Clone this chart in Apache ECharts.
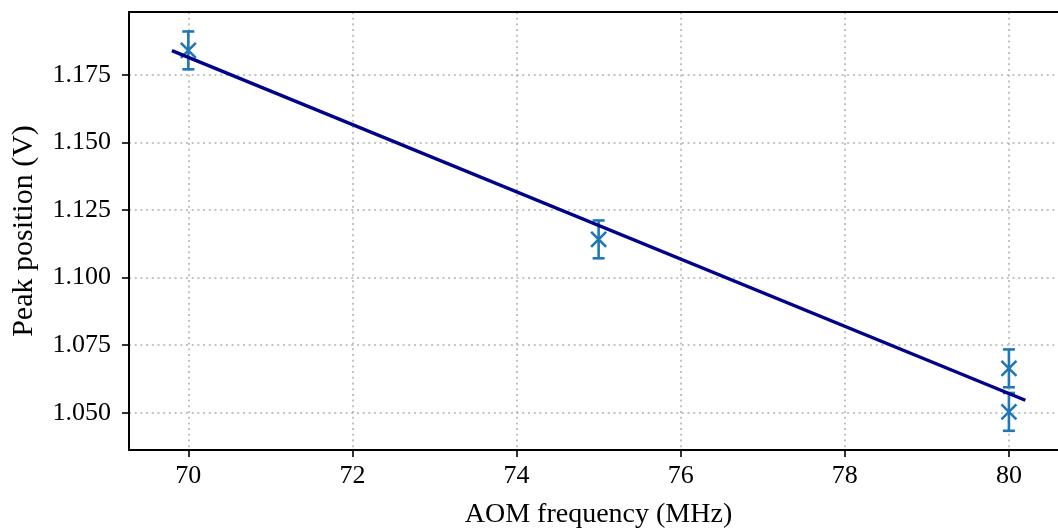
<!DOCTYPE html>
<html>
<head>
<meta charset="utf-8">
<script src="https://cdn.jsdelivr.net/npm/echarts@6/dist/echarts.min.js"></script>
<style>
  html, body { margin: 0; padding: 0; background: #ffffff; overflow: hidden; }
  #chart { width: 1058px; height: 528px; }
</style>
</head>
<body>
<div id="chart"></div>
<script>
// Measured peak positions versus AOM drive frequency
const freqMHz = [70, 75, 80, 80];
const peakV = [1.184, 1.1141, 1.0664, 1.0503];
const peakErr = [0.007, 0.007, 0.007, 0.007];

// Linear fit, evaluated at the ends of the drawn segment
const fitFreq = [69.8, 80.2];
const fitPeak = [1.1839, 1.0546];

// Tick positions
const xTicks = [70, 72, 74, 76, 78, 80];
const yTicks = [1.05, 1.075, 1.1, 1.125, 1.15, 1.175];

const FONT = '"Liberation Serif", "DejaVu Serif", serif';
const POINT_COLOR = '#1f77b4';
const FIT_COLOR = '#00008b';

const X_MIN = 69.277, X_MAX = 80.72;
const Y_MIN = 1.0362, Y_MAX = 1.1982;

const points = freqMHz.map((f, i) => [f, peakV[i], peakErr[i]]);
const fitLine = fitFreq.map((f, i) => [f, fitPeak[i]]);

const chart = echarts.init(document.getElementById('chart'), null, { renderer: 'canvas' });

// Error bar with caps plus an "x" marker at the measured value
function renderErrorPoint(params, api) {
  const x = api.value(0), y = api.value(1), e = api.value(2);
  const c = api.coord([x, y]);
  const hi = api.coord([x, y + e]);
  const lo = api.coord([x, y - e]);
  const cap = 6, m = 7.5;
  const bar = { stroke: POINT_COLOR, lineWidth: 2.6 };
  const mk = { stroke: POINT_COLOR, lineWidth: 2.6 };
  return {
    type: 'group',
    children: [
      { type: 'line', shape: { x1: c[0], y1: hi[1], x2: c[0], y2: lo[1] }, style: bar },
      { type: 'line', shape: { x1: c[0] - cap, y1: hi[1], x2: c[0] + cap, y2: hi[1] }, style: bar },
      { type: 'line', shape: { x1: c[0] - cap, y1: lo[1], x2: c[0] + cap, y2: lo[1] }, style: bar },
      { type: 'line', shape: { x1: c[0] - m, y1: c[1] - m, x2: c[0] + m, y2: c[1] + m }, style: mk },
      { type: 'line', shape: { x1: c[0] - m, y1: c[1] + m, x2: c[0] + m, y2: c[1] - m }, style: mk }
    ]
  };
}

const spine = { show: true, onZero: false, lineStyle: { color: '#000', width: 2 } };
const gridLine = { show: true, lineStyle: { color: '#b0b0b0', width: 1.5, type: [2, 3.7] } };
const tickStyle = { show: true, inside: false, length: 7, lineStyle: { color: '#000', width: 1.6 } };

chart.setOption({
  animation: false,
  backgroundColor: '#ffffff',
  grid: {
    left: 129, top: 12, width: 939, height: 438,
    containLabel: false,
    outerBoundsMode: 'none'
  },
  xAxis: [
    {
      type: 'value',
      position: 'bottom',
      min: X_MIN, max: X_MAX,
      name: 'AOM frequency (MHz)',
      nameLocation: 'middle',
      nameGap: 51,
      nameTextStyle: { fontFamily: FONT, fontSize: 28, color: '#000' },
      axisLine: spine,
      axisTick: Object.assign({ customValues: xTicks }, tickStyle),
      axisLabel: { customValues: xTicks, fontFamily: FONT, fontSize: 26, color: '#000', margin: 13 },
      splitLine: gridLine
    },
    {
      // top spine only
      type: 'value',
      position: 'top',
      min: X_MIN, max: X_MAX,
      axisLine: spine,
      axisTick: { show: false },
      axisLabel: { show: false },
      splitLine: { show: false }
    }
  ],
  yAxis: {
    type: 'value',
    min: Y_MIN, max: Y_MAX,
    name: 'Peak position (V)',
    nameLocation: 'middle',
    nameGap: 90,
    nameTextStyle: { fontFamily: FONT, fontSize: 30, color: '#000' },
    axisLine: spine,
    axisTick: Object.assign({ customValues: yTicks }, tickStyle),
    axisLabel: {
      customValues: yTicks, fontFamily: FONT, fontSize: 26, color: '#000', margin: 18,
      formatter: v => v.toFixed(3)
    },
    splitLine: gridLine
  },
  series: [
    {
      type: 'custom',
      renderItem: renderErrorPoint,
      data: points,
      encode: { x: 0, y: 1 },
      clip: false,
      z: 2
    },
    {
      type: 'line',
      data: fitLine,
      symbol: 'none',
      lineStyle: { color: FIT_COLOR, width: 3.4 },
      z: 3
    }
  ]
});
</script>
</body>
</html>
